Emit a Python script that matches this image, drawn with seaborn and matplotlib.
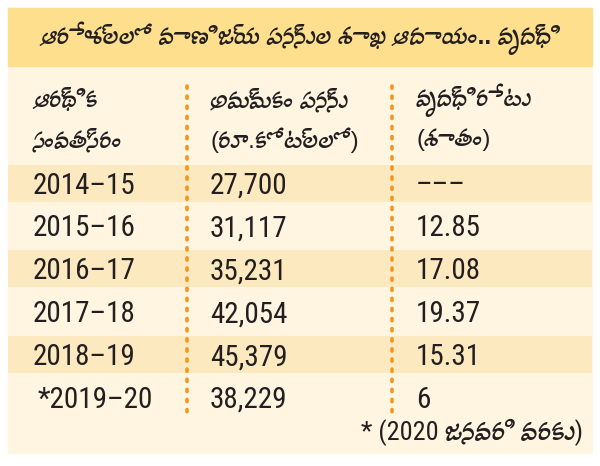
import matplotlib
matplotlib.use("Agg")
import matplotlib.pyplot as plt
from matplotlib import font_manager
from matplotlib.ft2font import FT2Font
import seaborn as sns

# ---- data ----
title = "ఆరేళ్లలో వాణిజ్య పన్నుల శాఖ ఆదాయం.. వృద్ధి"
col_headers = [("ఆర్థిక", "సంవత్సరం"), ("అమ్మకం పన్ను", "(రూ.కోట్లలో)"), ("వృద్ధిరేటు", "(శాతం)")]
years = ["2014–15", "2015–16", "2016–17", "2017–18", "2018–19", "*2019–20"]
sales = ["27,700", "31,117", "35,231", "42,054", "45,379", "38,229"]
growth = ["–––", "12.85", "17.08", "19.37", "15.31", "6"]
footnote = "* (2020 జనవరి వరకు)"

sns.set_theme(style="white")

# find fonts with Telugu coverage
tel_fonts = []
for f in font_manager.fontManager.ttflist:
    try:
        cm = FT2Font(f.fname).get_charmap()
        if 0x0C15 in cm and 0x0C3F in cm:
            tel_fonts.append(f.name)
    except Exception:
        pass
tel_fonts = sorted(set(tel_fonts))

names = {f.name for f in font_manager.fontManager.ttflist}
if "Liberation Sans Narrow" in names:
    num_family, num_size = ["Liberation Sans Narrow", "DejaVu Sans"], 21.5
elif "Roboto Condensed" in names:
    num_family, num_size = ["Roboto Condensed", "DejaVu Sans"], 21.0
else:
    num_family, num_size = ["Liberation Sans", "DejaVu Sans"], 19.0
tel_family = ["Liberation Sans"] + tel_fonts + ["DejaVu Sans"]
foot_family = num_family[:1] + tel_fonts + ["DejaVu Sans"]

fig = plt.figure(figsize=(6.0, 4.66), dpi=100)
ax = fig.add_axes([0, 0, 1, 1])
ax.set_xlim(0, 600)
ax.set_ylim(466, 0)
ax.axis("off")
fig.patch.set_facecolor("white")

# panel background
ax.add_patch(plt.Rectangle((8, 66), 584, 387, color="#FFF5E1", zorder=0))
ax.add_patch(plt.Rectangle((8, 8), 584, 58, color="#FDDF8E", zorder=1))

base0, step = 193.5, 42.9
ink = "#231F20"
for i, (y, s, g) in enumerate(zip(years, sales, growth)):
    yb = base0 + i * step
    if i % 2 == 0:
        ax.axhspan(yb - 29, yb + 8, xmin=8 / 600, xmax=592 / 600, color="#FDE9C0", zorder=1, lw=0)
    xoff = 33 if not y.startswith("*") else 38
    ax.text(xoff, yb, y, fontsize=num_size, family=num_family, va="baseline", ha="left", color=ink, zorder=3)
    ax.text(210, yb, s, fontsize=num_size, family=num_family, va="baseline", ha="left", color=ink, zorder=3)
    ax.text(416, yb, g, fontsize=num_size, family=num_family, va="baseline", ha="left", color=ink, zorder=3)

# separators
for xs in (187, 392):
    ax.plot([xs, xs], [86, 412], ls=(0, (0.6, 2.2)), lw=2.6, color="#F7941D", dash_capstyle="round", zorder=4)

# headers
hx = [33, 210, 416]
for x, (l1, l2) in zip(hx, col_headers):
    ax.text(x, 100, l1, fontsize=17, family=tel_family, va="center", ha="left", color=ink, zorder=3)
    ax.text(x, 140, l2, fontsize=17, family=tel_family, va="center", ha="left", color=ink, zorder=3)

ax.text(300, 38, title, fontsize=17.5, family=tel_family, fontweight="bold", va="center", ha="center", color=ink, zorder=3)
ax.text(583, 440, footnote, fontsize=19, family=foot_family, va="baseline", ha="right", color=ink, zorder=3)

fig.savefig("out.png", dpi=100, facecolor="white")
